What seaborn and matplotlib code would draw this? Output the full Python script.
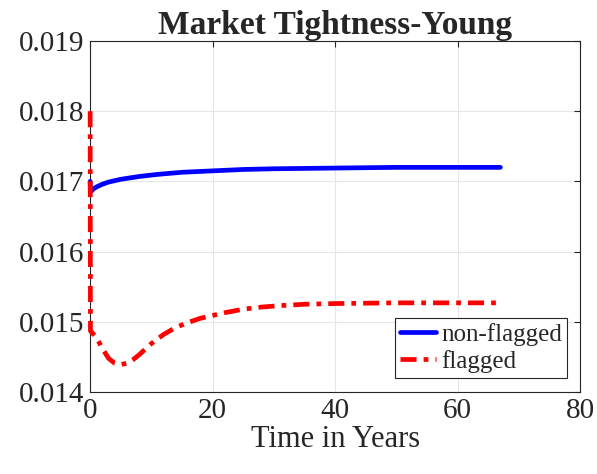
import matplotlib
matplotlib.use("Agg")
import matplotlib.pyplot as plt
import seaborn as sns
import pandas as pd

t_nonflag = [0, 0.05, 0.5, 1, 2, 3, 5, 8, 11, 15, 20, 25, 30, 40, 50, 60, 67]
v_nonflag = [0.01700, 0.01685, 0.01689, 0.01692, 0.01696, 0.01699, 0.01703, 0.01707,
             0.01710, 0.01713, 0.01715, 0.01717, 0.01718, 0.01719, 0.01720, 0.01720, 0.01720]

t_flag = [0, 0.05, 1, 2, 3, 4, 5, 6, 7, 8, 10, 12, 14, 16, 18, 20, 22, 25, 28, 31, 35, 40, 50, 60, 67]
v_flag = [0.0180, 0.01487, 0.01478, 0.01462, 0.01448, 0.01441, 0.01439, 0.01441, 0.01446,
          0.01453, 0.01469, 0.01482, 0.01492, 0.01499, 0.01505, 0.01509, 0.01513, 0.01518,
          0.01521, 0.01523, 0.01525, 0.01526, 0.01527, 0.01527, 0.01527]

series_names = ["non-flagged", "flagged"]
x_ticks = [0, 20, 40, 60, 80]
y_ticks = [0.014, 0.015, 0.016, 0.017, 0.018, 0.019]

sns.set_style("white")
plt.rcParams['font.family'] = ['Liberation Serif', 'DejaVu Serif']
plt.rcParams['mathtext.fontset'] = 'stix'

fig = plt.figure(figsize=(5.97, 4.74), dpi=100)
ax = fig.add_axes([0.151, 0.173, 0.8205, 0.7405])

df1 = pd.DataFrame({"t": t_nonflag, "v": v_nonflag})
df2 = pd.DataFrame({"t": t_flag, "v": v_flag})

sns.lineplot(data=df1, x="t", y="v", ax=ax, color="#0000ff", linewidth=3.4,
             label=series_names[0], sort=False, estimator=None)
sns.lineplot(data=df2, x="t", y="v", ax=ax, color="#ff0000", linewidth=3.4,
             label=series_names[1], sort=False, estimator=None,
             linestyle=(0, (3.4, 1.5, 1.0, 1.5)))
for ln in ax.lines:
    ln.set_clip_on(False)
    ln.set_zorder(3)

ax.set_xlim(0, 80)
ax.set_ylim(0.014, 0.019)
ax.set_xticks(x_ticks)
ax.set_yticks(y_ticks)
ax.set_xticklabels([str(v) for v in x_ticks])
ax.set_yticklabels([f"{v:.3f}" for v in y_ticks])
ax.tick_params(direction="in", length=4, width=0.8, colors="#262626", labelsize=21,
               top=True, right=True, pad=4)
for lbl in ax.get_xticklabels() + ax.get_yticklabels():
    lbl.set_color("#262626")
ax.grid(True, color="#e6e6e6", linewidth=0.8)
for s in ax.spines.values():
    s.set_color("#262626")
    s.set_linewidth(0.8)
    s.set_visible(True)

ax.set_xlabel("Time in Years", fontsize=22, color="#262626", labelpad=1)
ax.set_ylabel("")
ax.set_title("Market Tightness-Young", fontsize=24, fontweight="bold", pad=5)

leg = ax.legend(loc="lower right", fontsize=18, frameon=True, fancybox=False,
                edgecolor="#262626", framealpha=1, handlelength=1.45,
                handletextpad=0.2, borderpad=0.2, labelspacing=0.15,
                borderaxespad=0, bbox_to_anchor=(0.973, 0.04))
leg.get_frame().set_linewidth(0.8)
leg.set_zorder(5)

fig.savefig("out.png", dpi=100)
